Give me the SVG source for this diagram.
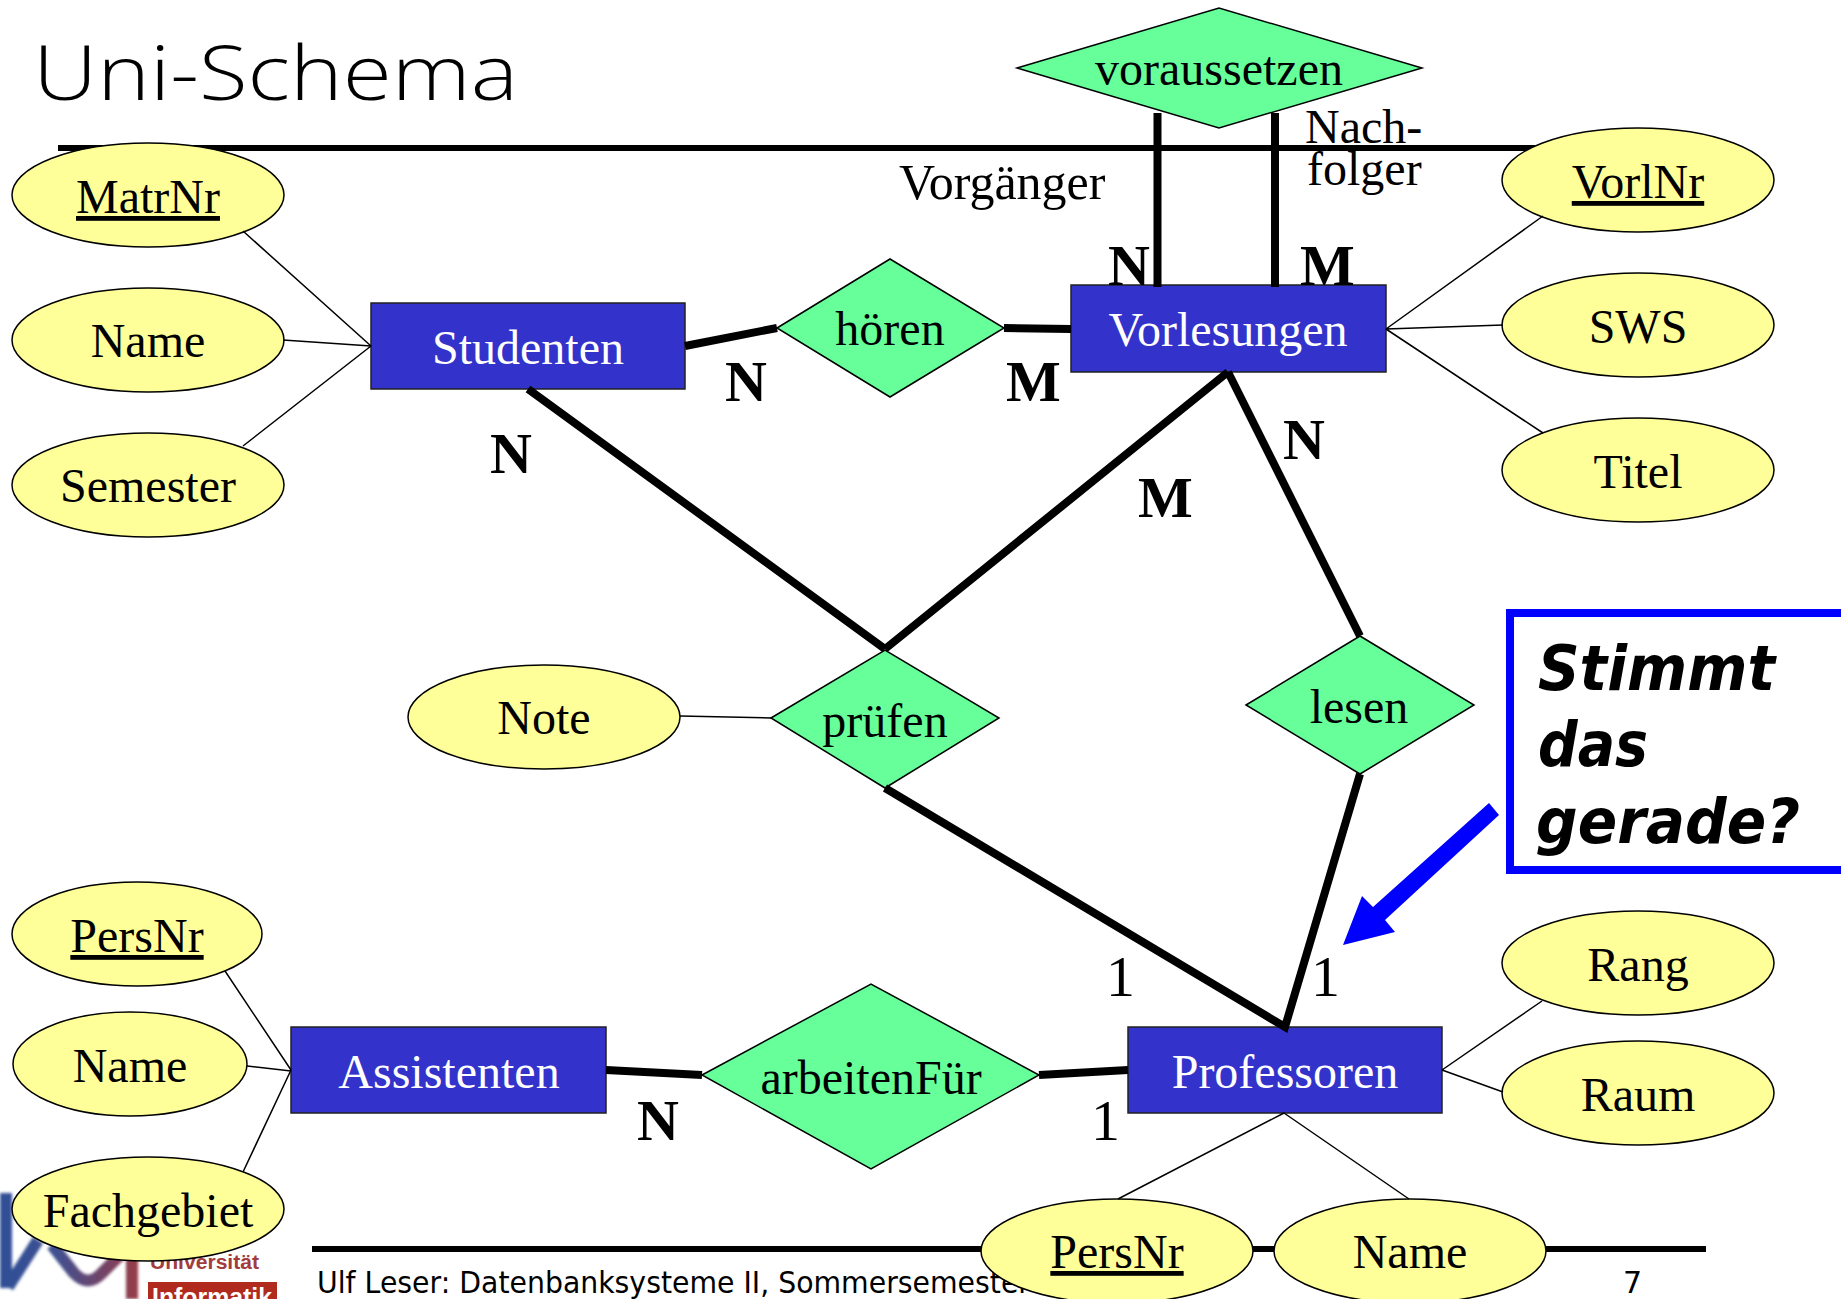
<svg xmlns="http://www.w3.org/2000/svg" width="1841" height="1299" viewBox="0 0 1841 1299">
<style>
text{font-family:"Liberation Serif","Times New Roman",serif;font-size:48px;fill:#000}
.c{text-anchor:middle}
.w{fill:#fff}
.e{fill:#FFFF99;stroke:#000;stroke-width:1.5}
.r{fill:#3333CC;stroke:#222;stroke-width:1.5}
.d{fill:#66FF99;stroke:#000;stroke-width:1.5}
.thin{stroke:#000;stroke-width:1.5;fill:none}
.thick{stroke:#000;stroke-width:8;fill:none}
.b{font-weight:bold;font-size:58px}
.n{font-size:58px}
.foot{font-family:"DejaVu Sans",sans-serif;font-size:30px}
.q{font-family:"DejaVu Sans",sans-serif;font-weight:bold;font-style:italic;font-size:62px}
</style>
<defs>
<linearGradient id="lg" gradientUnits="userSpaceOnUse" x1="0" y1="0" x2="140" y2="0"><stop offset="0" stop-color="#2F4F96"/><stop offset="0.4" stop-color="#3F5090"/><stop offset="1" stop-color="#9A3A46"/></linearGradient>
<filter id="bl"><feGaussianBlur stdDeviation="1.5"/></filter>
</defs>
<rect width="1841" height="1299" fill="#fff"/>
<g id="logo">
<path d="M6 1193V1288M8 1287L38 1240M52 1245L74 1273Q88 1288 102 1273L120 1255M132 1258V1299" stroke="url(#lg)" stroke-width="12" fill="none" filter="url(#bl)"/>
<text x="150" y="1269" style="font-family:'Liberation Sans',sans-serif;font-size:20px;font-weight:bold;fill:#A33C3C" textLength="109" lengthAdjust="spacingAndGlyphs">Universität</text>
<rect x="148" y="1282" width="129" height="17" fill="#B02A1E"/>
<text x="152" y="1306" style="font-family:'Liberation Sans',sans-serif;font-size:25px;font-weight:bold;fill:#fff" textLength="120" lengthAdjust="spacingAndGlyphs">Informatik</text>
</g>
<g id="chrome">
<text x="33" y="100" style="font-family:'Open Sans',sans-serif;font-weight:300;font-size:75px" textLength="485" lengthAdjust="spacingAndGlyphs">Uni-Schema</text>
<rect x="58" y="145" width="1477" height="6" fill="#000"/>
<rect x="312" y="1246" width="1394" height="6" fill="#000"/>
<text x="317" y="1293" class="foot" textLength="713" lengthAdjust="spacingAndGlyphs">Ulf Leser: Datenbanksysteme II, Sommersemester</text>
<text x="1623" y="1293" class="foot">7</text>
</g>
<g id="voraussetzen"><polygon class="d" points="1017,68 1219,8 1422,68 1219,128"/><text x="1219" y="85" class="c">voraussetzen</text></g>
<g id="hoeren"><polygon class="d" points="777,328 890,259 1004,328 890,397"/><text x="890" y="345" class="c">hören</text></g>
<g id="pruefen"><polygon class="d" points="771,718 885,650 999,718 885,788"/><text x="885" y="737" class="c">prüfen</text></g>
<g id="lesen"><polygon class="d" points="1246,705 1360,636 1474,705 1360,774"/><text x="1359" y="723" class="c">lesen</text></g>
<g id="arbeitenFuer"><polygon class="d" points="702,1075 871,984 1039,1075 871,1169"/><text x="871" y="1094" class="c">arbeitenFür</text></g>
<g id="Studenten"><rect class="r" x="371" y="303" width="314" height="86"/><text x="528" y="364" class="c w">Studenten</text></g>
<g id="Vorlesungen"><rect class="r" x="1071" y="285" width="315" height="87"/><text x="1228" y="346" class="c w">Vorlesungen</text></g>
<g id="Assistenten"><rect class="r" x="291" y="1027" width="315" height="86"/><text x="449" y="1088" class="c w">Assistenten</text></g>
<g id="Professoren"><rect class="r" x="1128" y="1027" width="314" height="86"/><text x="1285" y="1088" class="c w">Professoren</text></g>
<g id="MatrNr"><ellipse class="e" cx="148" cy="195" rx="136" ry="52"/><text x="148" y="213" class="c" text-decoration="underline">MatrNr</text></g>
<g id="NameS"><ellipse class="e" cx="148" cy="340" rx="136" ry="52"/><text x="148" y="357" class="c">Name</text></g>
<g id="Semester"><ellipse class="e" cx="148" cy="485" rx="136" ry="52"/><text x="148" y="502" class="c">Semester</text></g>
<g id="VorlNr"><ellipse class="e" cx="1638" cy="180" rx="136" ry="52"/><text x="1638" y="198" class="c" text-decoration="underline">VorlNr</text></g>
<g id="SWS"><ellipse class="e" cx="1638" cy="325" rx="136" ry="52"/><text x="1638" y="343" class="c">SWS</text></g>
<g id="Titel"><ellipse class="e" cx="1638" cy="470" rx="136" ry="52"/><text x="1638" y="488" class="c">Titel</text></g>
<g id="Note"><ellipse class="e" cx="544" cy="717" rx="136" ry="52"/><text x="544" y="734" class="c">Note</text></g>
<g id="PersNrA"><ellipse class="e" cx="137" cy="934" rx="125" ry="52"/><text x="137" y="952" class="c" text-decoration="underline">PersNr</text></g>
<g id="NameA"><ellipse class="e" cx="130" cy="1064" rx="117" ry="52"/><text x="130" y="1082" class="c">Name</text></g>
<g id="Fachgebiet"><ellipse class="e" cx="148" cy="1209" rx="136" ry="52"/><text x="148" y="1227" class="c">Fachgebiet</text></g>
<g id="Rang"><ellipse class="e" cx="1638" cy="963" rx="136" ry="52"/><text x="1638" y="981" class="c">Rang</text></g>
<g id="Raum"><ellipse class="e" cx="1638" cy="1093" rx="136" ry="52"/><text x="1638" y="1111" class="c">Raum</text></g>
<g id="PersNrP"><ellipse class="e" cx="1117" cy="1251" rx="136" ry="52"/><text x="1117" y="1268" class="c" text-decoration="underline">PersNr</text></g>
<g id="NameP"><ellipse class="e" cx="1410" cy="1251" rx="136" ry="52"/><text x="1410" y="1268" class="c">Name</text></g>
<g id="connectors">
<path class="thin" d="M243 231L371 346M283 340L371 346M243 446L371 346M1386 329L1543 216M1386 329L1503 325M1386 329L1543 433M680 716L771 718M225 971L291 1070M247 1066L291 1071M243 1172L291 1070M1442 1070L1542 1001M1442 1070L1503 1092M1284 1113L1118 1199M1284 1113L1409 1199"/>
<path class="thick" d="M685 346L777 328M1004 328L1071 329M528 389L885 649M1228 372L885 649M1228 372L1360 636M1360 774L1285 1027L885 788M606 1070L702 1075M1039 1075L1128 1070"/>
<path d="M1157.500 113V287M1275 113V287" stroke="#000" stroke-width="8" fill="none"/>
</g>
<g id="labels">
<text x="899" y="199" style="font-size:50px">Vorgänger</text>
<text x="1305" y="143">Nach-</text>
<text x="1307" y="185">folger</text>
<text x="1108" y="285" class="b">N</text>
<text x="1300" y="285" class="b">M</text>
<text x="725" y="401" class="b">N</text>
<text x="1006" y="401" class="b">M</text>
<text x="490" y="473" class="b">N</text>
<text x="1138" y="517" class="b">M</text>
<text x="1283" y="459" class="b">N</text>
<text x="637" y="1140" class="b">N</text>
<text x="1106" y="996" class="n">1</text>
<text x="1311" y="996" class="n">1</text>
<text x="1091" y="1140" class="n">1</text>
</g>
<g id="note">
<rect x="1510" y="613" width="400" height="257" fill="none" stroke="#0000FF" stroke-width="8"/>
<text x="1538" y="690" class="q" textLength="237" lengthAdjust="spacingAndGlyphs">Stimmt</text>
<text x="1538" y="766" class="q" textLength="110" lengthAdjust="spacingAndGlyphs">das</text>
<text x="1536" y="843" class="q" textLength="264" lengthAdjust="spacingAndGlyphs">gerade?</text>
<polygon points="1489,803 1499,815 1385,920 1395,932 1343,945 1362,896 1373,907" fill="#0000FF"/>
</g>
</svg>
